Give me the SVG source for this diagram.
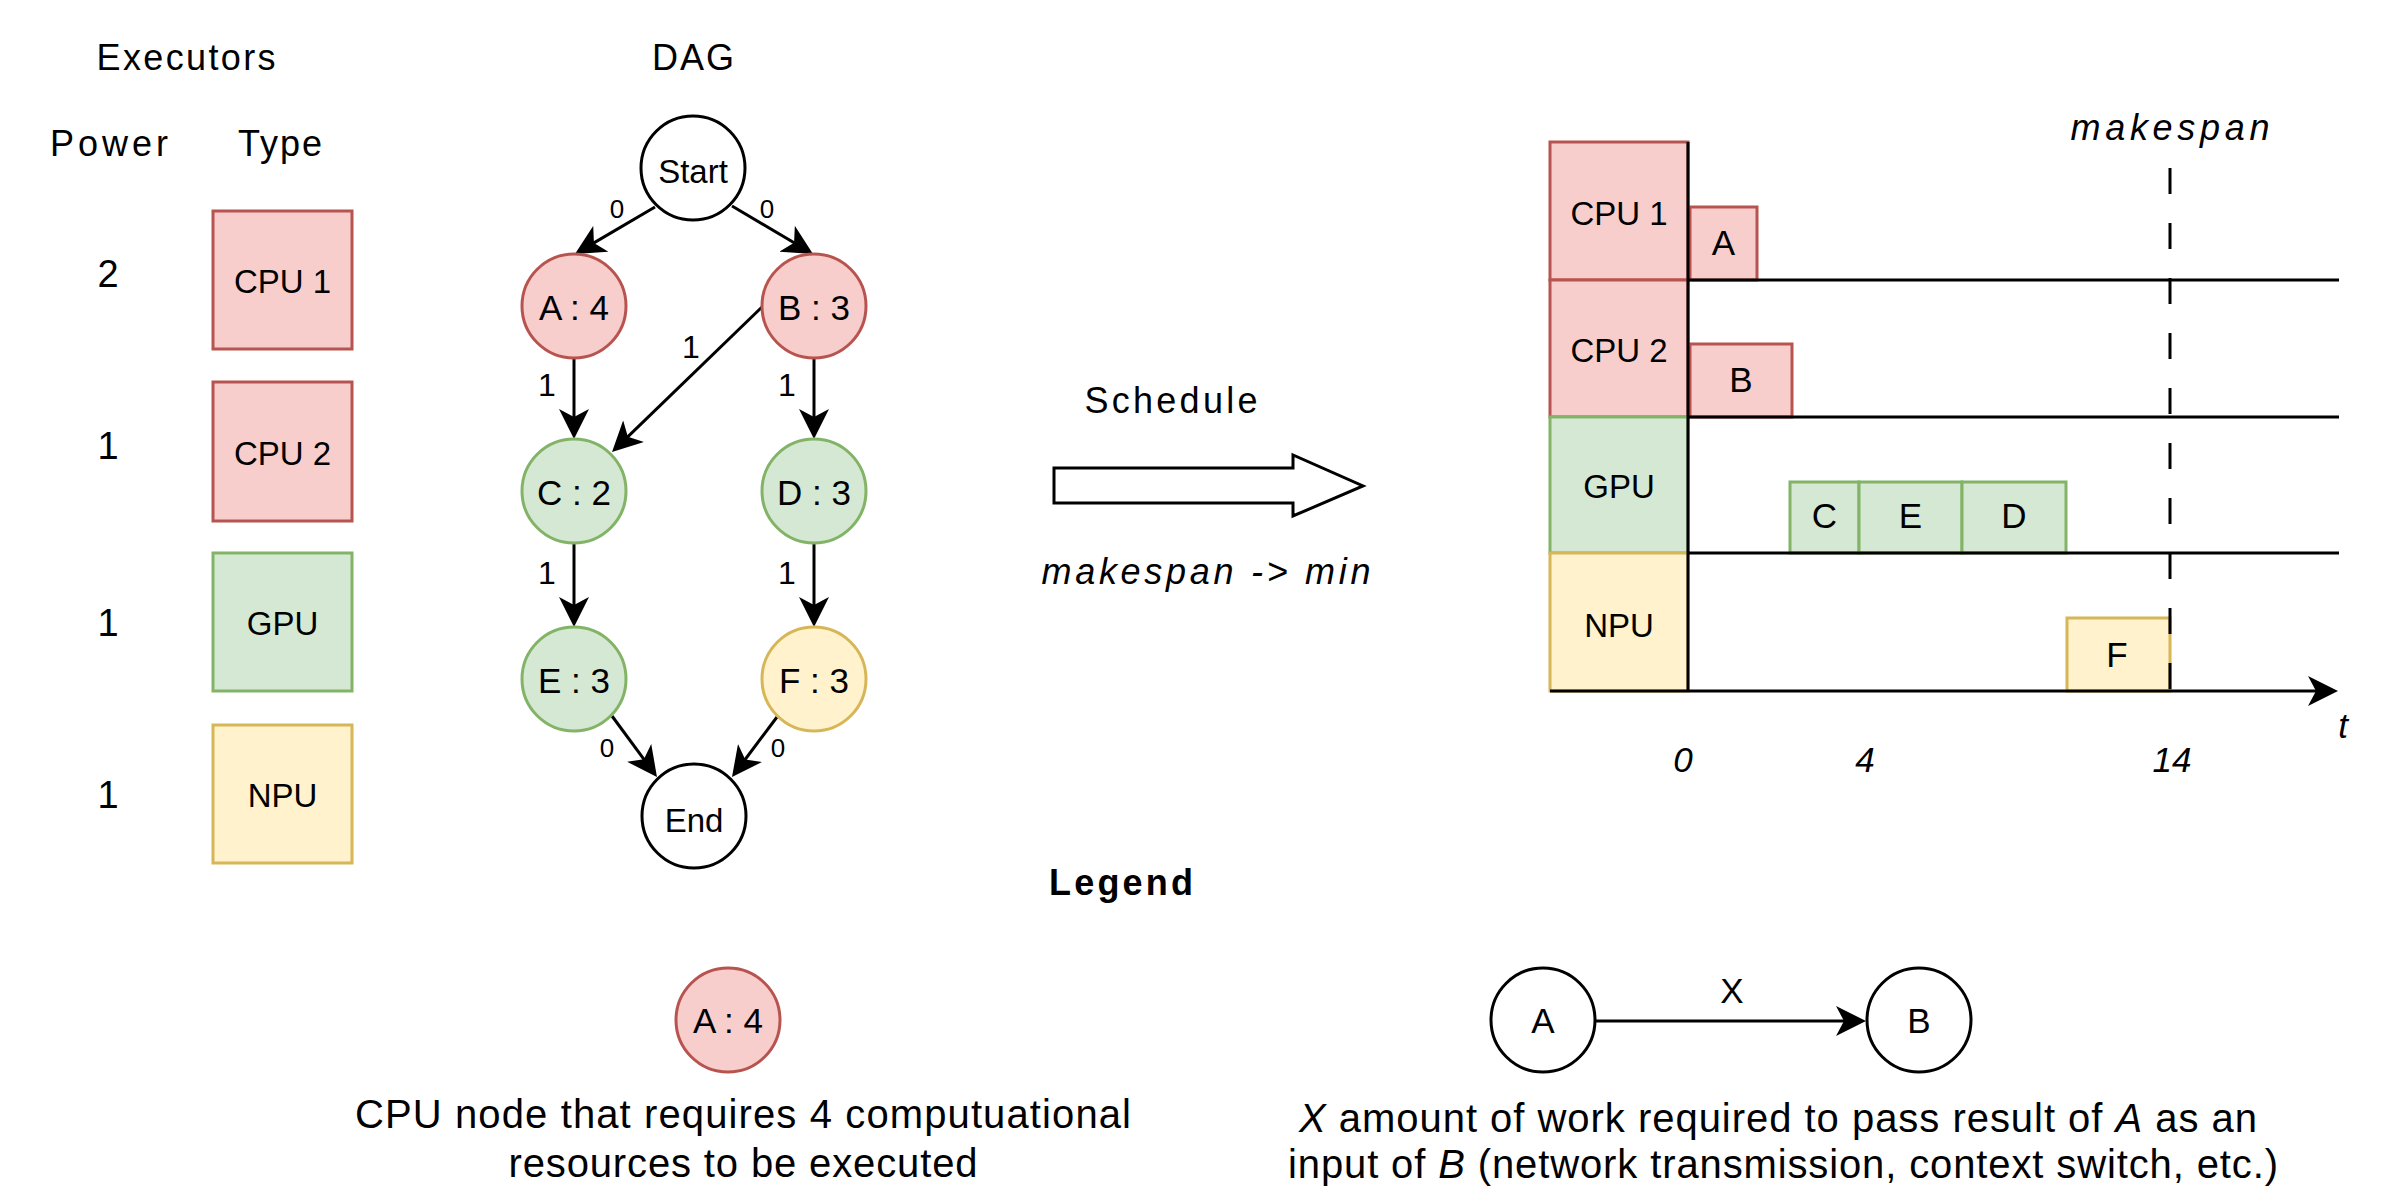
<svg xmlns="http://www.w3.org/2000/svg" width="2386" height="1188" viewBox="0 0 2386 1188">
<defs>
<marker id="arr" markerUnits="userSpaceOnUse" viewBox="0 0 30 30" markerWidth="30" markerHeight="30" refX="10" refY="15" orient="auto">
<path d="M0,0 L30,15 L0,30 L8,15 Z" fill="#000"/>
</marker>
<style>
text{font-family:"Liberation Sans",Arial,Helvetica,sans-serif;fill:#000;text-anchor:middle}
.h{font-size:36px}
.num{font-size:38px}
.lbl{font-size:33px}
.nt{font-size:35px}
.e0{font-size:26px}
.e1{font-size:32px}
.it{font-style:italic}
.cap{font-size:40px}
.red{fill:#f8cecc;stroke:#b85450;stroke-width:3}
.grn{fill:#d5e8d4;stroke:#82b366;stroke-width:3}
.yel{fill:#fff2cc;stroke:#d6b656;stroke-width:3}
.wht{fill:#fff;stroke:#000;stroke-width:3}
.edge{stroke:#000;stroke-width:3;fill:none;marker-end:url(#arr)}
.ln{stroke:#000;stroke-width:3;fill:none}
</style>
</defs>
<rect width="2386" height="1188" fill="#fff"/>

<!-- Executors -->
<g id="executors-header">
<text class="h" x="186" y="70" textLength="179" lengthAdjust="spacing">Executors</text>
<text class="h" x="109" y="156" textLength="118" lengthAdjust="spacing">Power</text>
<text class="h" x="280" y="156" textLength="84" lengthAdjust="spacing">Type</text>
</g>
<g id="exec-cpu1">
<text class="num" x="108" y="287">2</text>
<rect class="red" x="213" y="211" width="139" height="138"/>
<text class="lbl" x="282.5" y="293">CPU 1</text>
</g>
<g id="exec-cpu2">
<text class="num" x="108" y="459">1</text>
<rect class="red" x="213" y="382" width="139" height="139"/>
<text class="lbl" x="282.5" y="465">CPU 2</text>
</g>
<g id="exec-gpu">
<text class="num" x="108" y="636">1</text>
<rect class="grn" x="213" y="553" width="139" height="138"/>
<text class="lbl" x="282.5" y="635">GPU</text>
</g>
<g id="exec-npu">
<text class="num" x="108" y="808">1</text>
<rect class="yel" x="213" y="725" width="139" height="138"/>
<text class="lbl" x="282.5" y="807">NPU</text>
</g>

<!-- DAG -->
<text class="h" x="693" y="70" textLength="82" lengthAdjust="spacing">DAG</text>
<g id="connectors">
<line class="edge" x1="655" y1="207" x2="592.2" y2="243.9"/>
<line class="edge" x1="732" y1="206" x2="795.8" y2="243.8"/>
<line class="edge" x1="574" y1="358" x2="574" y2="419"/>
<line class="edge" x1="814" y1="358" x2="814" y2="419"/>
<line class="edge" x1="762" y1="307" x2="626.4" y2="438.1"/>
<line class="edge" x1="574" y1="543" x2="574" y2="607"/>
<line class="edge" x1="814" y1="543" x2="814" y2="607"/>
<line class="edge" x1="612" y1="716" x2="645.1" y2="760.9"/>
<line class="edge" x1="777" y1="717" x2="744" y2="761"/>
<text class="e0" x="617" y="218">0</text>
<text class="e0" x="767" y="218">0</text>
<text class="e1" x="547" y="396">1</text>
<text class="e1" x="787" y="396">1</text>
<text class="e1" x="691" y="358">1</text>
<text class="e1" x="547" y="584">1</text>
<text class="e1" x="787" y="584">1</text>
<text class="e0" x="607" y="757">0</text>
<text class="e0" x="778" y="757">0</text>
<line class="edge" x1="1594" y1="1021" x2="1846" y2="1021"/>
<text class="nt" x="1732" y="1003">X</text>
</g>
<g id="node-start"><circle class="wht" cx="693" cy="168" r="52"/><text class="lbl" x="693" y="183">Start</text></g>
<g id="node-a"><circle class="red" cx="574" cy="306" r="52"/><text class="nt" x="574" y="320">A : 4</text></g>
<g id="node-b"><circle class="red" cx="814" cy="306" r="52"/><text class="nt" x="814" y="320">B : 3</text></g>
<g id="node-c"><circle class="grn" cx="574" cy="491" r="52"/><text class="nt" x="574" y="505">C : 2</text></g>
<g id="node-d"><circle class="grn" cx="814" cy="491" r="52"/><text class="nt" x="814" y="505">D : 3</text></g>
<g id="node-e"><circle class="grn" cx="574" cy="679" r="52"/><text class="nt" x="574" y="693">E : 3</text></g>
<g id="node-f"><circle class="yel" cx="814" cy="679" r="52"/><text class="nt" x="814" y="693">F : 3</text></g>
<g id="node-end"><circle class="wht" cx="694" cy="816" r="52"/><text class="lbl" x="694" y="832">End</text></g>

<!-- Schedule arrow -->
<g id="schedule">
<text class="h" x="1171" y="413" textLength="173" lengthAdjust="spacing">Schedule</text>
<polygon class="wht" points="1054,468 1293,468 1293,455 1363,486 1293,516 1293,503 1054,503"/>
<text class="h it" x="1206" y="584" textLength="329" lengthAdjust="spacing">makespan -&gt; min</text>
</g>

<!-- Gantt chart -->
<g id="gantt">
<rect class="red" x="1550" y="142" width="138" height="138"/>
<text class="lbl" x="1619" y="225">CPU 1</text>
<rect class="red" x="1550" y="280" width="138" height="137"/>
<text class="lbl" x="1619" y="362">CPU 2</text>
<rect class="grn" x="1550" y="417" width="138" height="136"/>
<text class="lbl" x="1619" y="498">GPU</text>
<rect class="yel" x="1550" y="553" width="138" height="138"/>
<text class="lbl" x="1619" y="637">NPU</text>

<g id="task-a"><rect class="red" x="1690" y="207" width="67" height="73"/><text class="nt" x="1723.5" y="255">A</text></g>
<g id="task-b"><rect class="red" x="1690" y="344" width="102" height="73"/><text class="nt" x="1741" y="392">B</text></g>
<g id="task-c"><rect class="grn" x="1790" y="482" width="69" height="71"/><text class="nt" x="1824.5" y="528">C</text></g>
<g id="task-e"><rect class="grn" x="1859" y="482" width="103" height="71"/><text class="nt" x="1910.5" y="528">E</text></g>
<g id="task-d"><rect class="grn" x="1962" y="482" width="104" height="71"/><text class="nt" x="2014" y="528">D</text></g>
<g id="task-f"><rect class="yel" x="2067" y="618" width="103" height="73"/><text class="nt" x="2117" y="667">F</text></g>

<line class="ln" x1="1688" y1="142" x2="1688" y2="691"/>
<line class="ln" x1="1688" y1="280" x2="2339" y2="280"/>
<line class="ln" x1="1688" y1="417" x2="2339" y2="417"/>
<line class="ln" x1="1688" y1="553" x2="2339" y2="553"/>
<line class="edge" x1="1550" y1="691" x2="2318" y2="691"/>
<line class="ln" x1="2170" y1="168" x2="2170" y2="691" stroke-dasharray="26 29"/>
<text class="h it" x="2170" y="140" textLength="199" lengthAdjust="spacing">makespan</text>
<text class="nt it" x="2343" y="738">t</text>
<text class="nt it" x="1683" y="772">0</text>
<text class="nt it" x="1865" y="772">4</text>
<text class="nt it" x="2172" y="772">14</text>
</g>

<!-- Legend -->
<g id="legend">
<text class="h" x="1121" y="895" font-weight="bold" textLength="144" lengthAdjust="spacing">Legend</text>
</g>
<g id="legend-node">
<circle class="red" cx="728" cy="1020" r="52"/>
<text class="nt" x="728" y="1033">A : 4</text>
<text class="cap" x="743" y="1128" textLength="776" lengthAdjust="spacing">CPU node that requires 4 computuational</text>
<text class="cap" x="743" y="1177" textLength="469" lengthAdjust="spacing">resources to be executed</text>
</g>
<g id="legend-a"><circle class="wht" cx="1543" cy="1020" r="52"/><text class="nt" x="1543" y="1033">A</text></g>
<g id="legend-b"><circle class="wht" cx="1919" cy="1020" r="52"/><text class="nt" x="1919" y="1033">B</text></g>
<g id="legend-edge-caption">
<text class="cap" x="1778" y="1132" textLength="958" lengthAdjust="spacing"><tspan class="it">X</tspan> amount of work required to pass result of <tspan class="it">A</tspan> as an</text>
<text class="cap" x="1783" y="1178" textLength="990" lengthAdjust="spacing">input of <tspan class="it">B</tspan> (network transmission, context switch, etc.)</text>
</g>
</svg>
